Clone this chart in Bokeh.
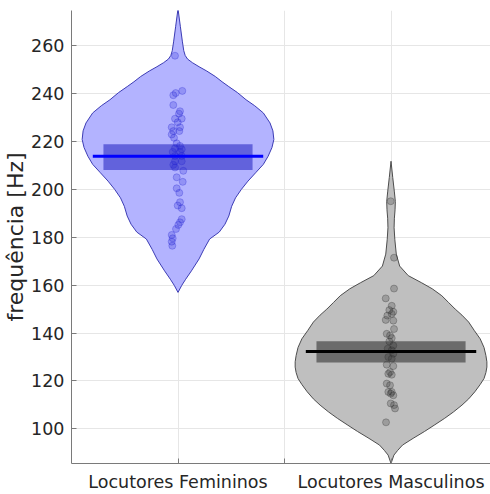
import numpy as np
from bokeh.plotting import figure
from bokeh.models import Range1d, FixedTicker, ColumnDataSource
from bokeh.embed import file_html
from bokeh.resources import INLINE

categories = ["Locutores Femininos", "Locutores Masculinos"]
y_ticks = [100, 120, 140, 160, 180, 200, 220, 240, 260]

fem_values = [255.9, 241.2, 240.3, 239.4, 235.3, 232.7, 231.7, 229.6, 229.6, 228.1,
              226.0, 226.0, 224.4, 224.4, 223.0, 221.6, 219.3, 218.2, 217.2, 216.8,
              215.7, 215.7, 214.0, 214.0, 211.8, 211.8, 210.3, 209.2, 207.8, 205.1,
              203.2, 200.5, 198.6, 194.7, 193.3, 192.2, 187.6, 186.3, 185.2, 183.5,
              181.0, 179.6, 178.2, 176.5]
fem_jitter = [-3, 4.3, -2.3, -4.7, -4.7, 2, 1, -3, 3.7, -0.3,
              -6.3, 2, -4.7, 1.3, -6.3, -4, -1.3, 2, -3, 3.7,
              -5.3, 2, -3, 3.7, -3, 3.7, -4.7, -3, 5.3, -1.3,
              4.7, -1.3, 1.3, 2, -0.3, 3.7, 3.7, 2, 0.3, -2,
              -6.3, -5.3, -6.3, -5.7]
masc_values = [195.1, 171.5, 158.6, 154.5, 151.4, 149.6, 148.9, 148.0, 147.3, 145.5,
               145.2, 141.7, 139.7, 139.0, 137.9, 136.5, 134.8, 133.5, 132.8, 131.4,
               130.0, 129.3, 126.8, 126.2, 123.7, 123.0, 122.6, 118.9, 118.2, 115.4,
               115.4, 114.7, 114.0, 110.6, 109.9, 108.5, 102.7]
masc_jitter = [-0.3, 3, 3, -5.3, 0.7, -1.7, 2.3, 0.7, -3.7, -5.3,
               2.3, 3, -4.3, -1, 0.7, -1.7, 2.3, -3.3, 0.7, 2.3,
               -2.7, 0.7, -4.3, 2.3, -1, -2.7, 0.7, -4.3, -1, 0.7,
               -2.7, -0.3, 2.3, -0.3, 3, 4, -5]

# violin outlines: frequency level [Hz] and relative density
fem_levels = [157.0, 160.0, 162.5, 166.0, 171.0, 175.0, 179.3, 182.2, 185.5, 188.9,
              193.0, 196.5, 200.0, 203.5, 207.0, 210.5, 213.9, 217.5, 220.9, 224.5,
              227.8, 232.0, 235.0, 237.5, 240.5, 243.0, 245.0, 247.2, 249.5, 251.3,
              253.0, 254.5, 256.0, 258.0, 262.0, 268.0, 275.5]
fem_density = [0.0, 0.04, 0.08, 0.14, 0.22, 0.27, 0.33, 0.43, 0.49, 0.53,
               0.56, 0.60, 0.66, 0.73, 0.81, 0.89, 0.94, 0.98, 1.0, 0.99,
               0.96, 0.89, 0.80, 0.71, 0.62, 0.53, 0.46, 0.39, 0.30, 0.22,
               0.15, 0.10, 0.075, 0.06, 0.045, 0.025, 0.0]
masc_levels = [85.5, 89.0, 91.0, 93.2, 96.0, 98.9, 101.5, 104.4, 107.0, 109.9,
               112.5, 115.5, 118.5, 121.0, 123.5, 125.8, 128.0, 130.6, 134.0, 137.6,
               141.0, 144.6, 147.5, 150.0, 152.8, 155.6, 158.5, 161.0, 164.0, 168.0,
               173.0, 179.0, 184.0, 188.0, 191.5, 195.0, 199.0, 205.0, 211.8]
masc_density = [0.0, 0.03, 0.07, 0.12, 0.23, 0.35, 0.45, 0.56, 0.65, 0.74,
                0.81, 0.875, 0.93, 0.97, 0.99, 1.0, 1.0, 0.99, 0.97, 0.93,
                0.87, 0.81, 0.74, 0.67, 0.60, 0.53, 0.43, 0.32, 0.18, 0.09,
                0.055, 0.04, 0.032, 0.035, 0.042, 0.045, 0.035, 0.018, 0.0]

means = [213.9, 132.3]
box_low = [208.2, 127.7]
box_high = [218.9, 136.6]

W, H = 490, 494
p = figure(width=W, height=H, output_backend="svg", toolbar_location=None,
           x_range=Range1d(0.5, 2.467), y_range=Range1d(85.5, 274.8),
           min_border_left=71, min_border_top=10, min_border_right=0, min_border_bottom=29)
p.outline_line_color = None
p.background_fill_color = "white"
p.border_fill_color = "white"

font = "DejaVu Sans"
for ax in (p.xaxis[0], p.yaxis[0]):
    ax.major_label_text_font = font
    ax.major_label_text_font_size = "17.5px"
    ax.major_label_text_color = "#262626"
    ax.axis_line_color = "#7a7a7a"
    ax.major_tick_line_color = "#7a7a7a"
    ax.major_tick_in = 5
    ax.major_tick_out = 0
    ax.minor_tick_line_color = None
p.xaxis.major_label_standoff = 8
p.yaxis.major_label_standoff = 7

p.xaxis.ticker = FixedTicker(ticks=[1, 1.5, 2])
p.xaxis.major_label_overrides = {1: categories[0], 1.5: "", 2: categories[1]}
p.yaxis.ticker = FixedTicker(ticks=y_ticks)
p.yaxis.axis_label = "frequência [Hz]"
p.yaxis.axis_label_text_font = font
p.yaxis.axis_label_text_font_size = "22px"
p.yaxis.axis_label_text_font_style = "normal"
p.yaxis.axis_label_text_color = "#262626"
p.yaxis.axis_label_standoff = 0

p.xgrid.ticker = FixedTicker(ticks=[1, 1.5, 2])
p.xgrid.grid_line_color = "#e6e6e6"
p.ygrid.grid_line_color = "#e6e6e6"

styles = [
    dict(fill="#b3b3ff", edge="#3c3cb4", box="#6262dc", mean="#0000ff",
         pfill="#2020d0", palpha=0.22, pline=0.28),
    dict(fill="#bfbfbf", edge="#4d4d4d", box="#6b6b6b", mean="#000000",
         pfill="#303030", palpha=0.24, pline=0.3),
]
data = [fem_values, masc_values]
jit = [fem_jitter, masc_jitter]
levels = [fem_levels, masc_levels]
dens = [fem_density, masc_density]
px_per_unit = 213.0
half_width = 0.45

for i, (vals, j, st) in enumerate(zip(data, jit, styles)):
    c = i + 1
    ys = np.array(levels[i])
    w = np.array(dens[i]) * half_width
    xs = np.concatenate([c + w, (c - w)[::-1]])
    yy = np.concatenate([ys, ys[::-1]])
    p.patch(xs, yy, fill_color=st["fill"], fill_alpha=1.0, line_color=st["edge"], line_width=1)
    p.quad(left=[c - 0.35], right=[c + 0.35], bottom=[box_low[i]], top=[box_high[i]],
           fill_color=st["box"], line_color=None)
    src = ColumnDataSource(dict(x=c + np.array(j) / px_per_unit, y=np.array(vals)))
    p.scatter("x", "y", source=src, size=7, fill_color=st["pfill"], fill_alpha=st["palpha"],
              line_color=st["pfill"], line_alpha=st["pline"])
    p.segment(x0=[c - 0.4], x1=[c + 0.4], y0=[means[i]], y1=[means[i]],
              line_color=st["mean"], line_width=3)

open("out.html", "w").write(file_html(p, INLINE))
